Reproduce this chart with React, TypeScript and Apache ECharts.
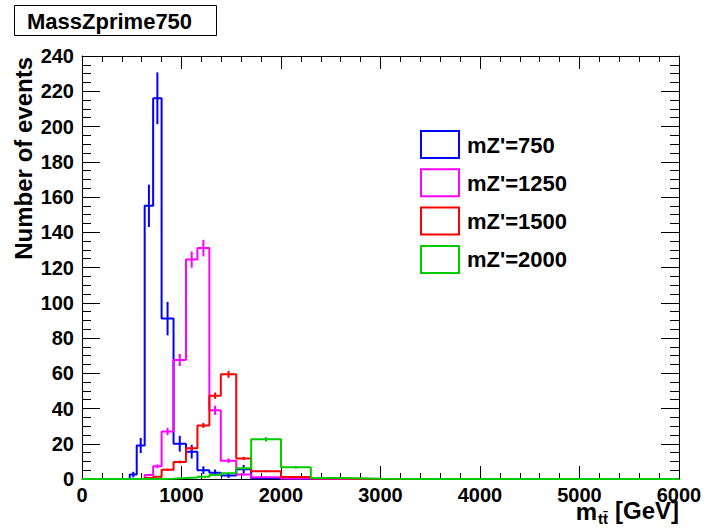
import React, { useEffect, useRef } from "react";
import * as echarts from "echarts";

// Bin edges of the m_tt histogram (GeV)
const binEdges = [0, 480, 550, 630, 715, 800, 920, 1045, 1160, 1280, 1395, 1550, 1700, 2000, 2300, 2600, 3000, 3500, 4000, 5000, 6000];

// Bin contents (events) per sample
const mz750 = [0, 2.5, 19, 155, 216, 91, 20, 15.5, 5, 3.5, 2, 5.6, 0.4, 0.2, 0, 0, 0, 0, 0, 0];
const mz750Err = [0, 1.6, 4.3, 12, 14.7, 9.5, 4.5, 3.9, 2.2, 1.9, 1.4, 2.4, 0.6, 0.4, 0, 0, 0, 0, 0, 0];
const mz1250 = [0, 0, 0, 2.3, 7.2, 27, 67.5, 124.5, 131, 39, 10.4, 2.5, 1, 0.3, 0, 0, 0, 0, 0, 0];
const mz1250Err = [0, 0, 0, 0.6, 1.1, 2.1, 3.4, 4.6, 4.7, 2.6, 1.3, 0.65, 0.4, 0.2, 0, 0, 0, 0, 0, 0];
const mz1500 = [0, 0, 0, 0.5, 1.3, 5.3, 9.7, 17.4, 30.4, 47.3, 59.4, 11.7, 4.4, 1.2, 0.3, 0, 0, 0, 0, 0];
const mz1500Err = [0, 0, 0, 0.2, 0.3, 0.6, 0.8, 1.1, 1.45, 1.8, 2.0, 0.9, 0.55, 0.3, 0.15, 0, 0, 0, 0, 0];
const mz2000 = [0, 0, 0, 0, 0, 0.2, 0.5, 0.8, 1.3, 2.3, 3.2, 6.1, 22.5, 6.6, 0.6, 0.2, 0, 0, 0, 0];
const mz2000Err = [0, 0, 0, 0, 0, 0.1, 0.2, 0.25, 0.3, 0.4, 0.5, 0.65, 1.25, 0.7, 0.2, 0.1, 0, 0, 0, 0];

const seriesNames = ["mZ'=750", "mZ'=1250", "mZ'=1500", "mZ'=2000"];
const seriesColors = ["#0000ff", "#ff00ff", "#ff0000", "#00cc00"];
const seriesValues = [mz750, mz1250, mz1500, mz2000];
const seriesErrors = [mz750Err, mz1250Err, mz1500Err, mz2000Err];

const xTicks = { min: 0, max: 6000, interval: 1000 };
const yTicks = { min: 0, max: 240, interval: 20 };

const FONT = "'Liberation Sans', Arial, Helvetica, sans-serif";

function stepPoints(values: number[]) {
  const pts: number[][] = [];
  for (let i = 0; i < values.length; i++) pts.push([binEdges[i], values[i]]);
  pts.push([binEdges[values.length], values[values.length - 1]]);
  return pts;
}

function errPoints(values: number[], errs: number[]) {
  const pts: number[][] = [];
  for (let i = 0; i < values.length; i++) {
    if (values[i] > 0) pts.push([(binEdges[i] + binEdges[i + 1]) / 2, values[i], errs[i]]);
  }
  return pts;
}

export default function App() {
  const ref = useRef<HTMLDivElement>(null);
  useEffect(() => {
    if (!ref.current) return;
    const chart = echarts.init(ref.current, null, { renderer: "svg" });
    const labelStyle = { fontFamily: FONT, fontWeight: "bold" as const, fontSize: 20, color: "#000" };
    const axisLine = { show: true, onZero: false, lineStyle: { color: "#000", width: 1 } };
    const xCommon = {
      type: "value" as const,
      min: xTicks.min,
      max: xTicks.max,
      interval: xTicks.interval,
      axisLine,
      axisTick: { show: true, inside: true, length: 13, lineStyle: { color: "#000" } },
      minorTick: { show: true, splitNumber: 5, length: 6, lineStyle: { color: "#000" } },
      splitLine: { show: false },
      minorSplitLine: { show: false },
    };
    const yCommon = {
      type: "value" as const,
      min: yTicks.min,
      max: yTicks.max,
      interval: yTicks.interval,
      axisLine,
      axisTick: { show: true, inside: true, length: 18, lineStyle: { color: "#000" } },
      minorTick: { show: true, splitNumber: 4, length: 9, lineStyle: { color: "#000" } },
      splitLine: { show: false },
      minorSplitLine: { show: false },
    };
    const series: any[] = [];
    seriesValues.forEach((vals, k) => {
      const color = seriesColors[k];
      series.push({
        name: seriesNames[k],
        type: "line",
        step: "end",
        symbol: "none",
        data: stepPoints(vals),
        lineStyle: { color, width: 2 },
        itemStyle: { color },
        xAxisIndex: 0,
        yAxisIndex: 0,
        z: 2 + k,
      });
      series.push({
        name: seriesNames[k] + " err",
        type: "custom",
        xAxisIndex: 0,
        yAxisIndex: 0,
        z: 2 + k,
        data: errPoints(vals, seriesErrors[k]),
        renderItem: (_p: any, api: any) => {
          const x = api.value(0);
          const v = api.value(1);
          const e = api.value(2);
          const a = api.coord([x, Math.max(0, v - e)]);
          const b = api.coord([x, v + e]);
          return {
            type: "line",
            shape: { x1: a[0], y1: a[1], x2: b[0], y2: b[1] },
            style: { stroke: color, lineWidth: 2 },
          };
        },
      });
    });

    const legendGraphics: any[] = [];
    seriesNames.forEach((n, k) => {
      const top = 131 + k * 38.3;
      legendGraphics.push({
        type: "rect",
        shape: { x: 421, y: top, width: 38, height: 27 },
        style: { fill: "#fff", stroke: seriesColors[k], lineWidth: 2 },
        z: 20,
      });
      legendGraphics.push({
        type: "text",
        x: 467,
        y: top + 14,
        style: { text: n, font: `bold 22px ${FONT}`, fill: "#000", textAlign: "left", textVerticalAlign: "middle" },
        z: 20,
      });
    });

    chart.setOption({
      animation: false,
      backgroundColor: "#fff",
      grid: { left: 82, right: 28, top: 56, bottom: 50, containLabel: false },
      xAxis: [
        { ...xCommon, position: "bottom", axisLabel: { ...labelStyle, margin: 6, formatter: (v: number) => String(v) } },
        { ...xCommon, position: "top", axisLabel: { show: false } },
      ],
      yAxis: [
        { ...yCommon, position: "left", axisLabel: { ...labelStyle, margin: 8, formatter: (v: number) => String(v) } },
        { ...yCommon, position: "right", axisLabel: { show: false } },
      ],
      series,
      graphic: [
        {
          type: "rect",
          shape: { x: 14.5, y: 5.5, width: 202, height: 30 },
          style: { fill: "#fff", stroke: "#000", lineWidth: 1 },
        },
        {
          type: "text",
          x: 27,
          y: 21,
          style: { text: "MassZprime750", font: `bold 22px ${FONT}`, fill: "#000", textAlign: "left", textVerticalAlign: "middle" },
        },
        {
          type: "text",
          x: 23,
          y: 57,
          rotation: Math.PI / 2,
          style: { text: "Number of events", font: `bold 24px ${FONT}`, fill: "#000", textAlign: "right", textVerticalAlign: "middle" },
        },
        {
          type: "text",
          x: 597,
          y: 511,
          style: { text: "m", font: `bold 24px ${FONT}`, fill: "#000", textAlign: "right", textVerticalAlign: "middle" },
        },
        {
          type: "text",
          x: 598,
          y: 518,
          style: { text: "tt\u0304", font: `bold 15px ${FONT}`, fill: "#000", textAlign: "left", textVerticalAlign: "middle" },
        },
        {
          type: "text",
          x: 679,
          y: 510,
          style: { text: "[GeV]", font: `bold 24px ${FONT}`, fill: "#000", textAlign: "right", textVerticalAlign: "middle" },
        },
        ...legendGraphics,
      ],
    });
    return () => chart.dispose();
  }, []);
  return <div ref={ref} style={{ width: 707, height: 529, position: "absolute", left: 0, top: 0 }} />;
}
